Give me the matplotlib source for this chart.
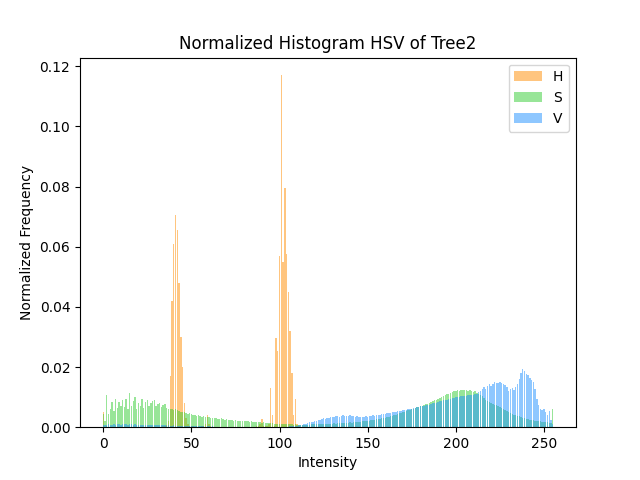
import numpy as np
import matplotlib.pyplot as plt

bins = np.arange(256)

# normalized histogram values, one row = 16 bins
hist_h = [
    0.0050, 0.0002, 0.0003, 0.0002, 0.0001, 0.0002, 0.0001, 0.0002, 0.0001, 0.0001, 0.0002, 0.0001, 0.0001, 0.0001, 0.0002, 0.0001,
    0.0001, 0.0001, 0.0001, 0.0001, 0.0001, 0.0001, 0.0001, 0.0001, 0.0001, 0.0001, 0.0001, 0.0001, 0.0001, 0.0002, 0.0001, 0.0002,
    0.0002, 0.0002, 0.0003, 0.0004, 0.0006, 0.0020, 0.0170, 0.0420, 0.0610, 0.0705, 0.0655, 0.0480, 0.0300, 0.0200, 0.0080, 0.0030,
    0.0010, 0.0004, 0.0003, 0.0003, 0.0002, 0.0003, 0.0002, 0.0002, 0.0003, 0.0004, 0.0010, 0.0040, 0.0010, 0.0003, 0.0002, 0.0002,
    0.0002, 0.0001, 0.0001, 0.0001, 0.0001, 0.0001, 0.0001, 0.0001, 0.0001, 0.0001, 0.0001, 0.0001, 0.0001, 0.0001, 0.0001, 0.0001,
    0.0001, 0.0001, 0.0001, 0.0001, 0.0002, 0.0002, 0.0002, 0.0003, 0.0005, 0.0010, 0.0027, 0.0005, 0.0005, 0.0004, 0.0010, 0.0130,
    0.0040, 0.0005, 0.0297, 0.0253, 0.0570, 0.1170, 0.0550, 0.0795, 0.0575, 0.0450, 0.0320, 0.0180, 0.0040, 0.0095, 0.0010, 0.0003,
    0.0002, 0.0001, 0.0001, 0.0001, 0.0001, 0.0001, 0.0001, 0.0001, 0.0001, 0.0001, 0.0001, 0.0001, 0.0001, 0.0001, 0.0001, 0.0001,
    0.0001, 0.0001, 0.0001, 0.0001, 0.0001, 0.0001, 0.0001, 0.0001, 0.0001, 0.0001, 0.0001, 0.0001, 0.0001, 0.0001, 0.0001, 0.0001,
    0.0001, 0.0001, 0.0001, 0.0001, 0.0001, 0.0001, 0.0001, 0.0001, 0.0001, 0.0001, 0.0001, 0.0001, 0.0001, 0.0001, 0.0001, 0.0001,
    0.0001, 0.0001, 0.0001, 0.0001, 0.0001, 0.0001, 0.0001, 0.0001, 0.0001, 0.0001, 0.0001, 0.0001, 0.0001, 0.0001, 0.0001, 0.0001,
    0.0001, 0.0001, 0.0001, 0.0001, 0.0000, 0.0000, 0.0000, 0.0000, 0.0000, 0.0000, 0.0000, 0.0000, 0.0000, 0.0000, 0.0000, 0.0000,
    0.0000, 0.0000, 0.0000, 0.0000, 0.0000, 0.0000, 0.0000, 0.0000, 0.0000, 0.0000, 0.0000, 0.0000, 0.0000, 0.0000, 0.0000, 0.0000,
    0.0000, 0.0000, 0.0000, 0.0000, 0.0000, 0.0000, 0.0000, 0.0000, 0.0000, 0.0000, 0.0000, 0.0000, 0.0000, 0.0000, 0.0000, 0.0000,
    0.0000, 0.0000, 0.0000, 0.0000, 0.0000, 0.0000, 0.0000, 0.0000, 0.0000, 0.0000, 0.0000, 0.0000, 0.0000, 0.0000, 0.0000, 0.0000,
    0.0000, 0.0000, 0.0000, 0.0000, 0.0000, 0.0000, 0.0000, 0.0000, 0.0000, 0.0000, 0.0000, 0.0000, 0.0000, 0.0000, 0.0000, 0.0000,
]

hist_s = [
    0.0045, 0.0020, 0.0106, 0.0045, 0.0060, 0.0083, 0.0055, 0.0095, 0.0065, 0.0085, 0.0072, 0.0090, 0.0068, 0.0095, 0.0060, 0.0115,
    0.0070, 0.0088, 0.0102, 0.0060, 0.0080, 0.0070, 0.0093, 0.0065, 0.0085, 0.0090, 0.0072, 0.0080, 0.0088, 0.0089, 0.0070, 0.0078,
    0.0082, 0.0068, 0.0075, 0.0077, 0.0065, 0.0062, 0.0060, 0.0062, 0.0058, 0.0060, 0.0057, 0.0055, 0.0052, 0.0050, 0.0049, 0.0047,
    0.0045, 0.0046, 0.0043, 0.0040, 0.0041, 0.0038, 0.0040, 0.0037, 0.0035, 0.0036, 0.0034, 0.0033, 0.0035, 0.0031, 0.0030, 0.0032,
    0.0029, 0.0028, 0.0027, 0.0029, 0.0026, 0.0025, 0.0026, 0.0024, 0.0023, 0.0024, 0.0022, 0.0023, 0.0021, 0.0022, 0.0020, 0.0021,
    0.0020, 0.0019, 0.0020, 0.0018, 0.0019, 0.0017, 0.0018, 0.0017, 0.0016, 0.0017, 0.0015, 0.0016, 0.0014, 0.0015, 0.0014, 0.0013,
    0.0013, 0.0012, 0.0012, 0.0011, 0.0011, 0.0010, 0.0010, 0.0011, 0.0009, 0.0010, 0.0009, 0.0009, 0.0008, 0.0009, 0.0008, 0.0008,
    0.0008, 0.0007, 0.0008, 0.0007, 0.0008, 0.0008, 0.0009, 0.0009, 0.0010, 0.0009, 0.0010, 0.0010, 0.0011, 0.0010, 0.0011, 0.0012,
    0.0012, 0.0011, 0.0012, 0.0013, 0.0012, 0.0013, 0.0014, 0.0013, 0.0014, 0.0015, 0.0014, 0.0015, 0.0016, 0.0015, 0.0016, 0.0017,
    0.0017, 0.0018, 0.0018, 0.0019, 0.0020, 0.0020, 0.0021, 0.0022, 0.0023, 0.0024, 0.0025, 0.0026, 0.0027, 0.0028, 0.0029, 0.0030,
    0.0032, 0.0033, 0.0035, 0.0036, 0.0038, 0.0040, 0.0042, 0.0044, 0.0046, 0.0048, 0.0050, 0.0052, 0.0054, 0.0056, 0.0058, 0.0060,
    0.0062, 0.0064, 0.0066, 0.0068, 0.0070, 0.0072, 0.0074, 0.0076, 0.0078, 0.0080, 0.0083, 0.0086, 0.0089, 0.0092, 0.0095, 0.0098,
    0.0101, 0.0104, 0.0107, 0.0110, 0.0112, 0.0115, 0.0117, 0.0119, 0.0120, 0.0122, 0.0121, 0.0123, 0.0124, 0.0122, 0.0123, 0.0121,
    0.0122, 0.0120, 0.0118, 0.0119, 0.0115, 0.0112, 0.0108, 0.0103, 0.0098, 0.0092, 0.0088, 0.0084, 0.0080, 0.0078, 0.0075, 0.0073,
    0.0071, 0.0068, 0.0065, 0.0061, 0.0058, 0.0055, 0.0050, 0.0047, 0.0044, 0.0042, 0.0040, 0.0038, 0.0036, 0.0034, 0.0032, 0.0030,
    0.0028, 0.0027, 0.0025, 0.0024, 0.0023, 0.0022, 0.0021, 0.0020, 0.0019, 0.0018, 0.0017, 0.0016, 0.0016, 0.0015, 0.0014, 0.0060,
]

hist_v = [
    0.0006, 0.0008, 0.0007, 0.0009, 0.0008, 0.0007, 0.0009, 0.0008, 0.0010, 0.0009, 0.0008, 0.0009, 0.0010, 0.0009, 0.0008, 0.0009,
    0.0009, 0.0008, 0.0009, 0.0008, 0.0007, 0.0008, 0.0008, 0.0007, 0.0008, 0.0007, 0.0007, 0.0008, 0.0007, 0.0006, 0.0007, 0.0006,
    0.0006, 0.0007, 0.0006, 0.0006, 0.0005, 0.0006, 0.0005, 0.0005, 0.0006, 0.0005, 0.0005, 0.0004, 0.0005, 0.0004, 0.0004, 0.0005,
    0.0004, 0.0004, 0.0003, 0.0004, 0.0003, 0.0003, 0.0004, 0.0003, 0.0003, 0.0003, 0.0002, 0.0003, 0.0003, 0.0002, 0.0003, 0.0002,
    0.0002, 0.0002, 0.0002, 0.0002, 0.0002, 0.0002, 0.0002, 0.0002, 0.0002, 0.0002, 0.0002, 0.0002, 0.0002, 0.0002, 0.0002, 0.0002,
    0.0002, 0.0002, 0.0002, 0.0002, 0.0002, 0.0002, 0.0002, 0.0002, 0.0002, 0.0002, 0.0002, 0.0002, 0.0002, 0.0002, 0.0002, 0.0002,
    0.0002, 0.0002, 0.0002, 0.0002, 0.0002, 0.0002, 0.0002, 0.0002, 0.0002, 0.0002, 0.0003, 0.0003, 0.0003, 0.0004, 0.0005, 0.0006,
    0.0006, 0.0008, 0.0010, 0.0012, 0.0014, 0.0016, 0.0018, 0.0017, 0.0020, 0.0022, 0.0024, 0.0023, 0.0027, 0.0029, 0.0028, 0.0031,
    0.0031, 0.0033, 0.0035, 0.0034, 0.0036, 0.0037, 0.0035, 0.0038, 0.0039, 0.0037, 0.0038, 0.0036, 0.0039, 0.0037, 0.0036, 0.0035,
    0.0036, 0.0034, 0.0035, 0.0033, 0.0034, 0.0036, 0.0035, 0.0037, 0.0036, 0.0039, 0.0038, 0.0040, 0.0041, 0.0042, 0.0044, 0.0043,
    0.0045, 0.0046, 0.0048, 0.0047, 0.0049, 0.0051, 0.0050, 0.0053, 0.0055, 0.0054, 0.0056, 0.0058, 0.0057, 0.0060, 0.0062, 0.0061,
    0.0063, 0.0065, 0.0067, 0.0066, 0.0069, 0.0071, 0.0070, 0.0073, 0.0075, 0.0074, 0.0077, 0.0079, 0.0080, 0.0082, 0.0084, 0.0086,
    0.0087, 0.0089, 0.0090, 0.0092, 0.0093, 0.0095, 0.0096, 0.0097, 0.0099, 0.0100, 0.0101, 0.0103, 0.0104, 0.0105, 0.0104, 0.0106,
    0.0107, 0.0108, 0.0107, 0.0110, 0.0112, 0.0116, 0.0121, 0.0127, 0.0132, 0.0128, 0.0137, 0.0142, 0.0138, 0.0145, 0.0150, 0.0148,
    0.0146, 0.0149, 0.0147, 0.0143, 0.0140, 0.0132, 0.0120, 0.0126, 0.0131, 0.0125, 0.0135, 0.0142, 0.0160, 0.0180, 0.0193, 0.0188,
    0.0178, 0.0172, 0.0165, 0.0158, 0.0150, 0.0128, 0.0095, 0.0075, 0.0062, 0.0058, 0.0060, 0.0052, 0.0042, 0.0055, 0.0025, 0.0010,
]

plt.figure(figsize=(6.4, 4.8), dpi=100)
plt.bar(bins, hist_h, color='darkorange', alpha=0.5, label='H')
plt.bar(bins, hist_s, color='limegreen', alpha=0.5, label='S')
plt.bar(bins, hist_v, color='dodgerblue', alpha=0.5, label='V')
plt.title('Normalized Histogram HSV of Tree2')
plt.xlabel('Intensity')
plt.ylabel('Normalized Frequency')
plt.legend()
plt.savefig('out.png')
